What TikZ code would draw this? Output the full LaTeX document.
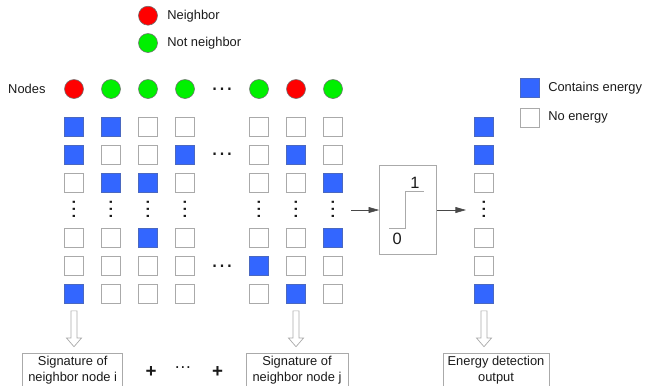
\documentclass[tikz,border=0pt]{standalone}
\usepackage{fontspec}
\setmainfont{Liberation Sans}
\usetikzlibrary{arrows.meta,positioning,calc}
\definecolor{energy}{HTML}{3366FF}
\definecolor{energyedge}{HTML}{4A68C0}
\definecolor{neigh}{HTML}{FF0000}
\definecolor{notneigh}{HTML}{00F000}
\definecolor{edge}{HTML}{AAAAAA}
\definecolor{ring}{HTML}{707070}
\definecolor{ink}{HTML}{1A1A1A}

\begin{document}
\begin{tikzpicture}[x=0.03cm,y=-0.03cm,font=\fontsize{11}{13.6}\selectfont,text=ink,>={Triangle[length=9pt,width=5pt]},
  cell0/.style={draw=edge,fill=white,minimum size=0.57cm,inner sep=0pt,line width=.6pt},
  cell1/.style={cell0,draw=energyedge,fill=energy},
  nb/.style={circle,draw=ring,fill=neigh,minimum size=0.57cm,inner sep=0pt,line width=.5pt},
  nn/.style={nb,fill=notneigh},
  hdots/.style={inner sep=0pt,font=\fontsize{20}{20}\selectfont},
  vdots/.style={hdots,rotate=90,font=\fontsize{19}{19}\selectfont},
  sig/.style={draw=edge,anchor=north,align=center,inner xsep=2pt,inner ysep=2.5pt,line width=.6pt}]
  \useasboundingbox (0,0) rectangle (645,385);
  \clip (0,0) rectangle (645,385);

  \node[nb] (lnb) at (148,15.7) {};
  \node[nn] (lnn) at (148,43) {};
  \node[right=0.28cm of lnb,inner sep=0pt] {Neighbor};
  \node[right=0.28cm of lnn,inner sep=0pt] {Not neighbor};

  \node[cell1] (lon) at (529.5,88) {};
  \node[cell0] (loff) at (529.5,117.5) {};
  \node[right=0.26cm of lon,inner sep=0pt] {Contains energy};
  \node[right=0.26cm of loff,inner sep=0pt] {No energy};

  \node[anchor=west,inner sep=0pt] (lbl) at (8,89) {Nodes};
  \foreach \st/\x [count=\c] in {nb/74,nn/111,nn/148,nn/185,nn/259,nb/296,nn/333}
    \node[\st] (n\c) at (\x,89) {};
  \node[hdots] (h0) at (222,89) {…};

  \foreach \r/\y/\pat in {1/126.5/{1,1,0,0,0,0,0},2/154.5/{1,0,0,1,0,1,0},3/182.5/{0,1,1,0,0,0,1},
                          5/238/{0,0,1,0,0,0,1},6/266/{0,0,0,0,1,0,0},7/294/{1,0,0,0,0,1,0}}
    \foreach \b [count=\c] in \pat {
      \pgfmathsetmacro{\x}{{74,111,148,185,259,296,333}[\c-1]}
      \node[cell\b] (s\r\c) at (\x,\y) {};
    }
  \foreach \x [count=\c] in {74,111,148,185,259,296,333}
    \node[vdots] (v\c) at (\x,209.5) {…};
  \node[hdots] (h2) at (222,154.5) {…};
  \node[hdots] (h6) at (222,266) {…};

  \node[draw=edge,minimum width=1.71cm,minimum height=2.67cm,line width=.6pt] (thr) at (408,210) {};
  \draw[edge,line width=.8pt] ($(thr.center)+(-19,18.7)$) -- ++(16.7,0) -- ++(0,-37.7) -- ++(18.6,0);
  \node[font=\fontsize{14}{14}\selectfont] (one) at ($(thr.center)+(7,-27.3)$) {1};
  \node[font=\fontsize{14}{14}\selectfont] (zero) at ($(thr.center)+(-10.7,29.3)$) {0};
  \coordinate (mx) at (351,210);
  \coordinate (ox) at (466,210);
  \draw[->,ink!80,line width=.5pt] (mx) -- (thr);
  \draw[->,ink!80,line width=.5pt] (thr) -- (ox);

  \foreach \b/\y in {1/126.5,1/154.5,0/182.5,0/238,0/266,1/294}
    \node[cell\b] (o\y) at (484,\y) {};
  \node[vdots] (ov) at (484,209.5) {…};

  \node[sig,minimum width=3cm] (sigi) at (72.7,353.3) {Signature of\\neighbor node i};
  \node[sig,minimum width=3.06cm] (sigj) at (297,353.3) {Signature of\\neighbor node j};
  \node[sig,minimum width=3.18cm] (det) at (496,353.3) {Energy detection\\output};
  \node[font=\fontsize{16}{16}\selectfont\bfseries] (p1) at (151,372.3) {+};
  \node[hdots,font=\fontsize{15}{15}\selectfont] (hb) at (183,368) {…};
  \node[font=\fontsize{16}{16}\selectfont\bfseries] (p2) at (217.7,372.3) {+};

  \foreach \a/\z in {s71/sigi,s76/sigj,o294/det}
    \draw[edge,fill=white,line width=.6pt] ($(\a.south)+(-3,7)$) -- ($(\a.south |- \z.north)+(-3,-15.3)$) -- ++(-4.5,0)
      -- ($(\a.south |- \z.north)+(0,-6.6)$) -- ($(\a.south |- \z.north)+(7.5,-15.3)$) -- ++(-4.5,0)
      -- ($(\a.south)+(3,7)$) -- cycle;
\end{tikzpicture}
\end{document}
